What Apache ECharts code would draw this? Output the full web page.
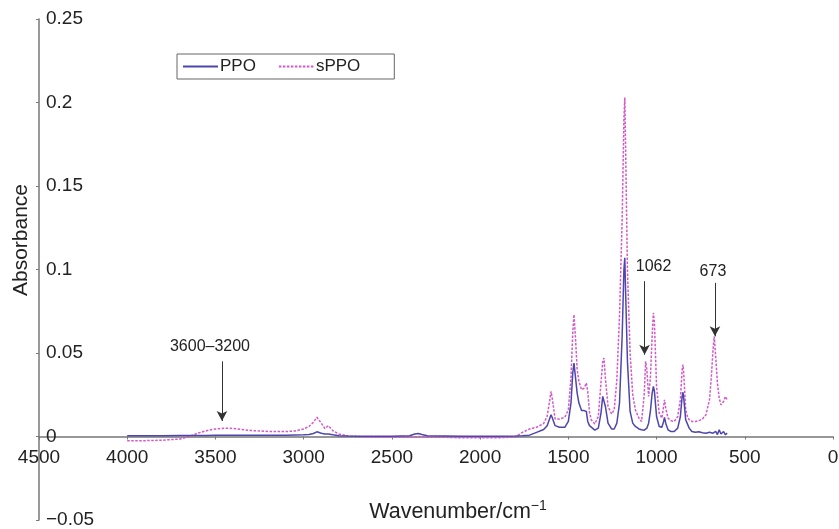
<!DOCTYPE html>
<html>
<head>
<meta charset="utf-8">
<script src="https://cdn.jsdelivr.net/npm/echarts@6/dist/echarts.min.js"></script>
<style>
html,body{margin:0;padding:0;background:#fff;}
#c{width:839px;height:529px;}
</style>
</head>
<body>
<div id="c"></div>
<script>
// Wavenumbers (cm^-1), shared by both spectra
var wavenumbers = [4000,3900,3800,3700,3650,3600,3550,3500,3450,3400,3350,3300,3200,3100,3050,3000,2970,2945,2925,2915,2900,2880,2860,2850,2835,2800,2750,2700,2600,2500,2400,2370,2350,2330,2300,2200,2100,2000,1900,1800,1760,1720,1680,1640,1620,1605,1598,1590,1575,1550,1520,1500,1485,1475,1468,1460,1450,1440,1425,1410,1398,1390,1380,1370,1350,1330,1315,1305,1298,1290,1275,1255,1240,1225,1210,1195,1185,1180,1175,1165,1150,1135,1120,1100,1085,1070,1062,1055,1045,1035,1025,1018,1012,1000,985,970,960,955,948,935,920,900,880,865,855,850,845,835,825,815,800,780,760,740,720,700,690,680,673,665,655,645,635,620,610,600];
var ppo = [0.0005,0.0005,0.0005,0.0006,0.0006,0.0006,0.0006,0.0007,0.0007,0.0007,0.0007,0.0007,0.0008,0.0008,0.0009,0.001,0.0012,0.0018,0.0028,0.003,0.002,0.0015,0.0015,0.0014,0.001,0.0005,0.0003,0.0002,0.0002,0.0002,0.0004,0.0015,0.0018,0.0012,0.0004,0.0003,0.0002,0.0002,0.0002,0.0003,0.0004,0.0008,0.0025,0.0042,0.0065,0.011,0.013,0.011,0.0065,0.0055,0.0055,0.009,0.02,0.038,0.044,0.036,0.026,0.02,0.0155,0.0155,0.015,0.009,0.0065,0.007,0.0038,0.005,0.014,0.024,0.025,0.018,0.008,0.0045,0.0045,0.008,0.02,0.06,0.1,0.107,0.085,0.045,0.015,0.008,0.006,0.0045,0.004,0.0038,0.004,0.005,0.008,0.015,0.026,0.03,0.027,0.012,0.006,0.0055,0.009,0.0115,0.008,0.004,0.003,0.003,0.005,0.012,0.024,0.0265,0.022,0.01,0.0095,0.005,0.003,0.0025,0.0028,0.0022,0.002,0.0025,0.0015,0.002,0.0015,0.003,0.0012,0.004,0.0015,0.003,0.001,0.002];
var sppo = [-0.0025,-0.0025,-0.0022,-0.0015,0.0,0.002,0.0035,0.0045,0.005,0.0048,0.0042,0.0036,0.003,0.003,0.0033,0.0045,0.006,0.0085,0.0115,0.012,0.008,0.0048,0.0065,0.0062,0.0035,0.0015,0.0003,0.0,-0.0005,-0.0005,-0.0005,-0.0003,0.0,-0.0002,-0.0005,-0.0005,-0.0008,-0.0008,-0.0008,-0.0003,0.0025,0.0045,0.0055,0.0078,0.012,0.022,0.027,0.022,0.0105,0.0105,0.0115,0.016,0.035,0.062,0.073,0.06,0.04,0.033,0.028,0.029,0.032,0.027,0.0145,0.010,0.0075,0.012,0.032,0.045,0.047,0.035,0.018,0.0135,0.016,0.034,0.072,0.13,0.19,0.203,0.17,0.1,0.05,0.025,0.016,0.011,0.009,0.025,0.045,0.04,0.024,0.035,0.06,0.074,0.068,0.03,0.014,0.011,0.018,0.022,0.017,0.011,0.0095,0.009,0.012,0.022,0.04,0.043,0.036,0.016,0.012,0.01,0.009,0.009,0.0095,0.0105,0.013,0.022,0.035,0.052,0.06,0.048,0.032,0.023,0.019,0.021,0.024,0.022];
var seriesNames = ['PPO', 'sPPO'];
var xTicks = {min: 0, max: 4500, interval: 500};
var yTicks = {min: -0.05, max: 0.25, interval: 0.05};
// annotations: [label, wavenumber, arrow top value, arrow tip value]
var annotations = [
  ['3600\u20133200', 3463, 0.045, 0.0093],
  ['1062', 1068, 0.093, 0.049],
  ['673', 669, 0.092, 0.060]
];

function pairs(vals){ return wavenumbers.map(function(w,i){ return [w, vals[i]]; }); }

var W = 839, H = 529;
var gridTop = 19, gridBottom = 9;
var gridH = H - gridTop - gridBottom;
// shift the x axis up so it sits on y = 0 (labels included)
var xAxisOffset = -gridH * (0 - yTicks.min) / (yTicks.max - yTicks.min);

var chart = echarts.init(document.getElementById('c'), null, {renderer:'canvas'});
var font = 'Liberation Sans, Arial, Helvetica, sans-serif';

var markData = annotations.map(function(a, i){
  var offs = [[-12, -1], [9, -1], [-2, 3]][i];
  return [
    {coord: [a[1], a[2]], label: {formatter: a[0], offset: offs}},
    {coord: [a[1], a[3]]}
  ];
});

chart.setOption({
  animation: false,
  backgroundColor: '#fff',
  grid: {left: 39, right: 6, top: gridTop, bottom: gridBottom, containLabel: false, outerBoundsMode: 'none'},
  legend: {
    left: 177, top: 54,
    data: seriesNames,
    orient: 'horizontal',
    borderColor: '#666', borderWidth: 1, borderRadius: 0,
    padding: [4, 34, 4, 5],
    itemWidth: 35, itemHeight: 10, itemGap: 22,
    itemStyle: {color: 'rgba(0,0,0,0)', borderWidth: 0, opacity: 0},
    textStyle: {fontFamily: font, fontSize: 17, color: '#222', padding: [0,0,0,-3]}
  },
  xAxis: {
    type: 'value', inverse: true, position: 'bottom', offset: xAxisOffset,
    min: xTicks.min, max: xTicks.max, interval: xTicks.interval,
    axisLine: {onZero: false, lineStyle: {color: '#777', width: 1.5}},
    axisTick: {show: true, length: 3, lineStyle: {color: '#777'}},
    axisLabel: {fontFamily: font, fontSize: 19, color: '#222', margin: 12, showMinLabel: true, showMaxLabel: true,
      formatter: function(v){ return String(v); }},
    splitLine: {show: false}
  },
  yAxis: {
    type: 'value',
    min: yTicks.min, max: yTicks.max, interval: yTicks.interval,
    axisLine: {show: true, onZero: false, lineStyle: {color: '#777', width: 1.5}},
    axisTick: {show: true, inside: false, length: 3, lineStyle: {color: '#777'}},
    axisLabel: {
      inside: true, margin: 7, fontFamily: font, fontSize: 19, color: '#222', padding: [5, 0, 0, 0],
      formatter: function(v){ var r = parseFloat(v.toFixed(2)); return r < 0 ? '\u2212' + Math.abs(r) : String(r); }
    },
    splitLine: {show: false}
  },
  series: [
    {
      name: seriesNames[0], type: 'line', data: pairs(ppo), symbol: 'none', z: 4,
      lineStyle: {color: '#4d46ad', width: 1.5}, itemStyle: {color: '#4d46ad'}
    },
    {
      name: seriesNames[1], type: 'line', data: pairs(sppo), symbol: 'none', z: 3,
      lineStyle: {color: '#d458c8', width: 1.5, type: [2.5, 1.5]}, itemStyle: {color: '#d458c8'},
      markLine: {
        silent: true,
        symbol: ['none', 'arrow'], symbolSize: [8, 10],
        lineStyle: {color: '#333', width: 1, type: 'solid'},
        label: {show: true, position: 'start', fontFamily: font, fontSize: 16, color: '#222', distance: 6},
        data: markData
      }
    }
  ],
  graphic: [
    {
      type: 'text', x: 21, y: 240, rotation: Math.PI / 2,
      style: {text: 'Absorbance', fontFamily: font, fontSize: 21, fill: '#222', align: 'center', verticalAlign: 'middle'}
    },
    {
      type: 'text', x: 458, y: 512,
      style: {
        text: '{a|Wavenumber/cm}{b|\u22121}',
        align: 'center', verticalAlign: 'middle',
        rich: {
          a: {fontFamily: font, fontSize: 21.5, fill: '#222', color: '#222'},
          b: {fontFamily: font, fontSize: 14, fill: '#222', color: '#222', verticalAlign: 'top', padding: [0,0,11,0]}
        }
      }
    }
  ]
});
</script>
</body>
</html>
